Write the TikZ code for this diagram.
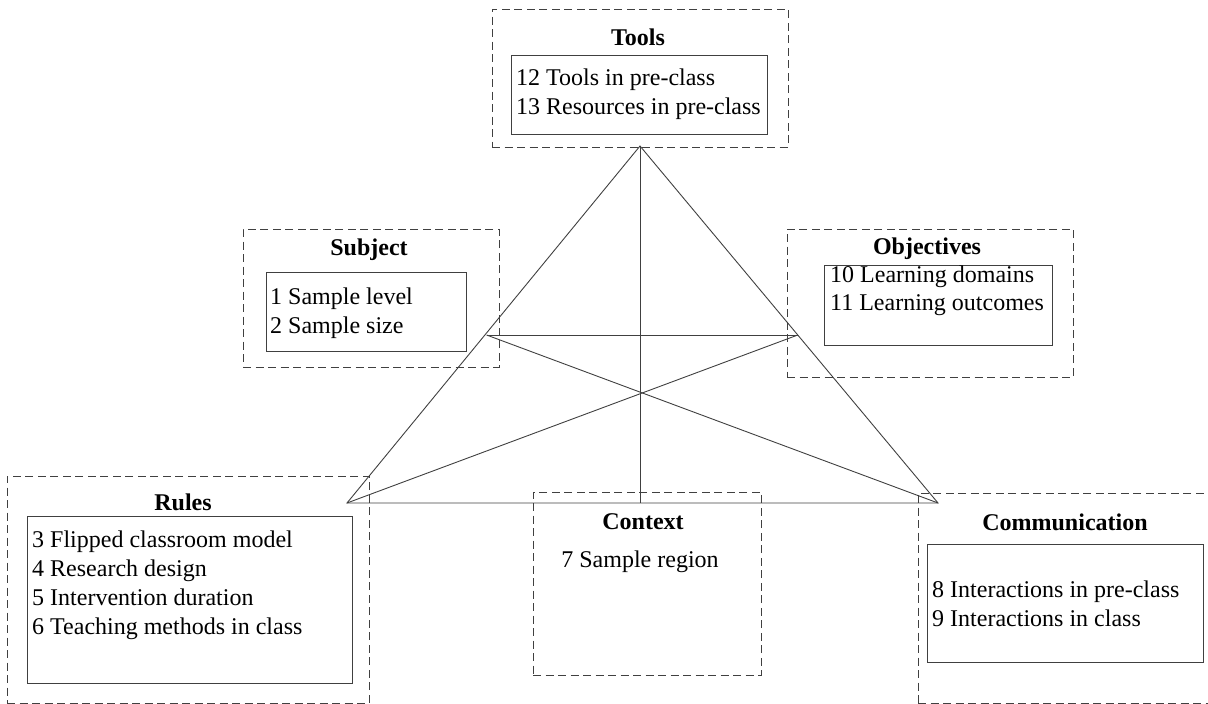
\documentclass[tikz,border=0pt]{standalone}
\usepackage{fontspec}
\setmainfont{Liberation Serif}
\begin{document}
\begin{tikzpicture}[x=1pt,y=-1pt,
  linecol/.style={draw=black!75, line width=1pt},
  outer/.style={linecol, dash pattern=on 8pt off 4.5pt, inner sep=0pt, minimum width=#1},
  inner/.style={linecol, inner sep=0pt},
  ttl/.style={font=\fontsize{24}{28}\selectfont\bfseries, inner sep=0pt},
  txt/.style={font=\fontsize{24}{28.5}\selectfont, align=left, anchor=west, inner sep=0pt},
  edge/.style={draw=black!75, line width=0.9pt}]
\useasboundingbox (0,0) rectangle (1208,704);

% Tools
\node[outer=296pt, minimum height=138pt] (toolsO) at (640,78) {};
\node[inner, minimum width=256pt, minimum height=79pt] (toolsI) at (639,94.5) {};
\node[ttl] (toolsT) at (638,37) {Tools};
\node[txt] (toolsX) at (516,94) {12 Tools in pre-class\\13 Resources in pre-class};

% Subject
\node[outer=256pt, minimum height=138pt] (subjO) at (371,298) {};
\node[inner, minimum width=200pt, minimum height=79pt] (subjI) at (366,311.5) {};
\node[ttl] (subjT) at (369,250) {Subject};
\node[txt] (subjX) at (270,313) {1 Sample level\\2 Sample size};

% Objectives
\node[outer=286pt, minimum height=148pt] (objO) at (930,303) {};
\node[inner, minimum width=228pt, minimum height=80pt] (objI) at (938,305) {};
\node[ttl] (objT) at (927,249) {Objectives};
\node[txt] (objX) at (830,291) {10 Learning domains\\11 Learning outcomes};

% Rules
\node[outer=362pt, minimum height=227pt] (rulesO) at (188,589.5) {};
\node[inner, minimum width=325pt, minimum height=167pt] (rulesI) at (189.5,599.5) {};
\node[ttl] (rulesT) at (183,502) {Rules};
\node[txt, font=\fontsize{24}{29}\selectfont] (rulesX) at (32,585.5) {3 Flipped classroom model\\4 Research design\\5 Intervention duration\\6 Teaching methods in class};

% Context
\node[outer=228pt, minimum height=183pt] (ctxO) at (647,583.5) {};
\node[ttl] (ctxT) at (643,522) {Context};
\node[txt, anchor=center] (ctxX) at (640,562) {7 Sample region};

% Communication
\node[outer=294pt, minimum height=210pt] (comO) at (1065,598) {};
\node[inner, minimum width=276pt, minimum height=118pt] (comI) at (1065,603) {};
\node[ttl] (comT) at (1065,522) {Communication};
\node[txt] (comX) at (932,604) {8 Interactions in pre-class\\9 Interactions in class};

% Triangle
\coordinate (A) at (640,146);
\coordinate (L) at (347,503);
\coordinate (R) at (938,503);
\coordinate (B) at (640,503);
\coordinate (ML) at (486.6,335);
\coordinate (MR) at (797.8,335);
\draw[edge] (A) -- (L) -- (R) -- cycle;
\draw[edge] (ML) -- (MR);
\draw[edge] (ML) -- (R);
\draw[edge] (MR) -- (L);
\draw[edge] (A) -- (B);
\end{tikzpicture}
\end{document}
